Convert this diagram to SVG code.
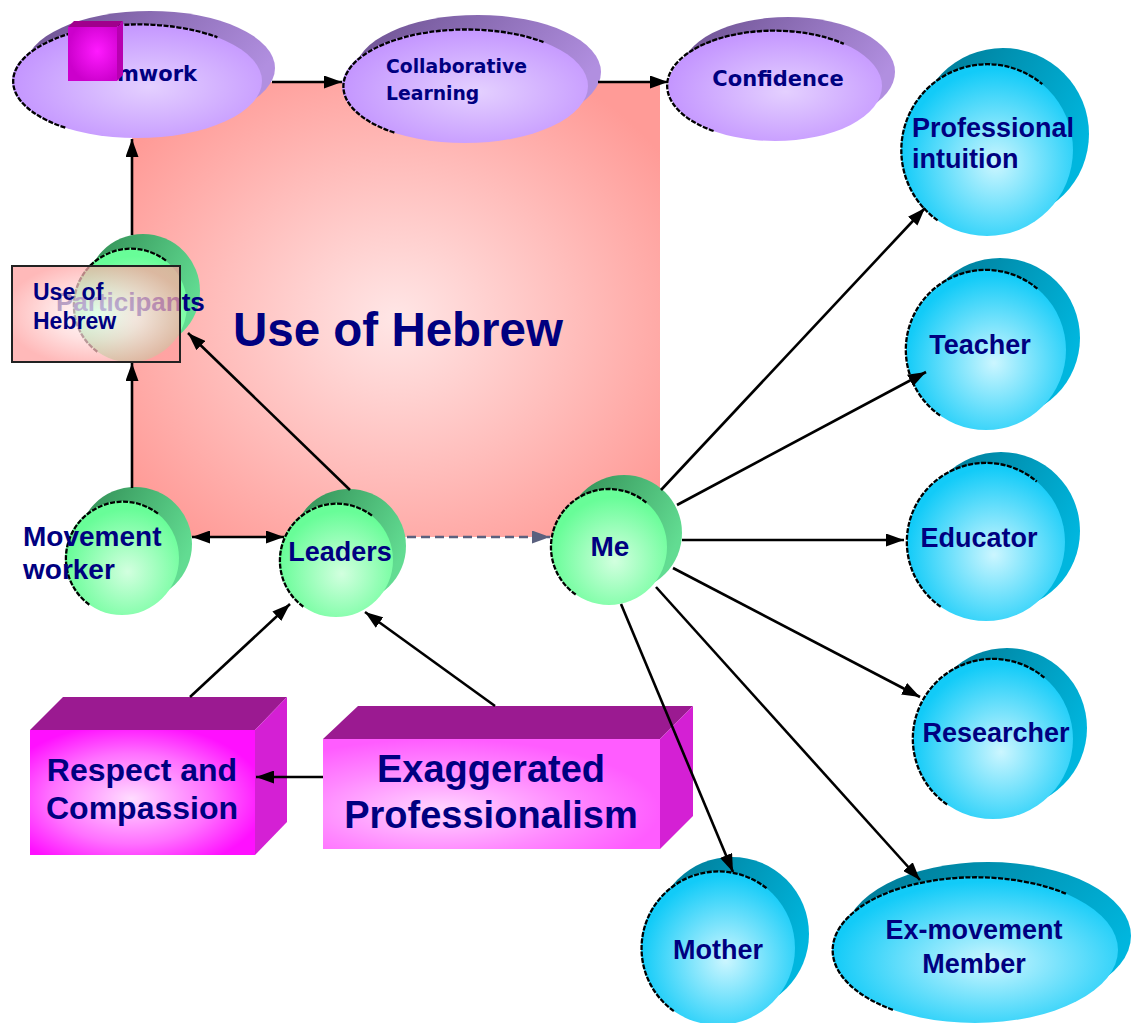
<svg xmlns="http://www.w3.org/2000/svg" width="1134" height="1023" viewBox="0 0 1134 1023">
  <defs>
    <radialGradient id="gBg" cx="50%" cy="52%" r="62%">
      <stop offset="0" stop-color="#ffe6e6"/>
      <stop offset="0.55" stop-color="#ffbdbb"/>
      <stop offset="1" stop-color="#ff9b97"/>
    </radialGradient>
    <radialGradient id="gBox" cx="50%" cy="50%" r="55%">
      <stop offset="0" stop-color="#ffffff"/>
      <stop offset="0.5" stop-color="#ffd6d6"/>
      <stop offset="1" stop-color="#ff9e9e"/>
    </radialGradient>
    <radialGradient id="gPurple" cx="55%" cy="55%" r="55%">
      <stop offset="0" stop-color="#e4d0ff"/>
      <stop offset="1" stop-color="#c496ff"/>
    </radialGradient>
    <linearGradient id="gPurpleBk" x1="0" y1="0" x2="1" y2="0.4">
      <stop offset="0" stop-color="#6a4f8e"/>
      <stop offset="1" stop-color="#b18fe0"/>
    </linearGradient>
    <radialGradient id="gGreen" cx="55%" cy="62%" r="55%">
      <stop offset="0" stop-color="#d2ffdf"/>
      <stop offset="1" stop-color="#68fd98"/>
    </radialGradient>
    <linearGradient id="gGreenBk" x1="0" y1="0" x2="1" y2="0.5">
      <stop offset="0" stop-color="#2f8a52"/>
      <stop offset="1" stop-color="#62dc92"/>
    </linearGradient>
    <radialGradient id="gBlue" cx="55%" cy="58%" r="55%">
      <stop offset="0" stop-color="#ccf6ff"/>
      <stop offset="1" stop-color="#12cbf8"/>
    </radialGradient>
    <linearGradient id="gBlueBk" x1="0" y1="0" x2="1" y2="0.5">
      <stop offset="0" stop-color="#00758f"/>
      <stop offset="1" stop-color="#00b6de"/>
    </linearGradient>
    <radialGradient id="gMagFace" cx="45%" cy="55%" r="60%">
      <stop offset="0" stop-color="#ffdcff"/>
      <stop offset="0.6" stop-color="#ff70ff"/>
      <stop offset="1" stop-color="#ff10ff"/>
    </radialGradient>
    <radialGradient id="gMagFace2" cx="35%" cy="65%" r="65%">
      <stop offset="0" stop-color="#ffd6ff"/>
      <stop offset="0.6" stop-color="#ff88ff"/>
      <stop offset="1" stop-color="#ff5cff"/>
    </radialGradient>
    <radialGradient id="gCube" cx="60%" cy="45%" r="60%">
      <stop offset="0" stop-color="#ff1aff"/>
      <stop offset="1" stop-color="#cc00cc"/>
    </radialGradient>
    <marker id="ah" viewBox="0 0 18 13" markerUnits="userSpaceOnUse" markerWidth="18" markerHeight="13" refX="18" refY="6.5" orient="auto-start-reverse">
      <path d="M0,0 L18,6.5 L0,13 z" fill="#000"/>
    </marker>
    <marker id="ahGray" viewBox="0 0 18 13" markerUnits="userSpaceOnUse" markerWidth="18" markerHeight="13" refX="18" refY="6.5" orient="auto">
      <path d="M0,0 L18,6.5 L0,13 z" fill="#5a607e"/>
    </marker>
  </defs>
  <style>
    .edge { stroke: #000; stroke-width: 2.6; fill: none; marker-end: url(#ah); }
    .dash { stroke: #5a607e; stroke-width: 2.6; fill: none; stroke-dasharray: 9 5; marker-end: url(#ahGray); }
    .rim { stroke: #000; stroke-width: 2.3; fill: none; stroke-dasharray: 5 1.5; }
    .t { font-family: "Liberation Sans", Arial, sans-serif; font-weight: bold; fill: #000080; }
    .v { font-family: "DejaVu Sans", Verdana, sans-serif; font-weight: bold; fill: #000080; }
    .mid { text-anchor: middle; }
    .pBk { fill: url(#gPurpleBk); }
    .pFr { fill: url(#gPurple); }
    .gBk { fill: url(#gGreenBk); }
    .gFr { fill: url(#gGreen); }
    .bBk { fill: url(#gBlueBk); }
    .bFr { fill: url(#gBlue); }
    .top { fill: #9b1a91; }
    .side { fill: #d420d4; }
  </style>

  <rect width="1134" height="1023" fill="#fff"/>

  <!-- large background area -->
  <g id="use-of-hebrew">
    <rect x="132" y="82" width="528" height="455" fill="url(#gBg)"/>
    <text class="t mid" x="398" y="346" font-size="47.5">Use of Hebrew</text>
  </g>

  <!-- top row ellipses -->
  <g id="teamwork">
    <ellipse class="pBk" cx="150" cy="68" rx="125" ry="57"/>
    <ellipse class="pFr" cx="137" cy="81" rx="125" ry="57"/>
    <path class="rim" d="M65.3,127.7 A125,57 0 1 1 217.4,37.3"/>
    <text class="v mid" x="137" y="81" font-size="21">Teamwork</text>
    <!-- small cube sitting on the label -->
    <polygon points="68,27 74,21 123,21 117,27" fill="#a0008c"/>
    <polygon points="117,27 123,21 123,75 117,81" fill="#b800b0"/>
    <rect x="68" y="27" width="49" height="54" fill="url(#gCube)"/>
  </g>
  <g id="collaborative-learning">
    <ellipse class="pBk" cx="478" cy="72" rx="123" ry="57"/>
    <ellipse class="pFr" cx="465" cy="86" rx="123" ry="57"/>
    <path class="rim" d="M394.4,132.7 A123,57 0 1 1 544.1,42.3"/>
    <text class="v" x="386" y="73" font-size="18.8">Collaborative</text>
    <text class="v" x="386" y="100" font-size="18.8">Learning</text>
  </g>
  <g id="confidence">
    <ellipse class="pBk" cx="788" cy="72" rx="107" ry="55"/>
    <ellipse class="pFr" cx="775" cy="86" rx="107" ry="55"/>
    <path class="rim" d="M713.6,131 A107,55 0 1 1 843.8,43.9"/>
    <text class="v mid" x="778" y="86" font-size="21">Confidence</text>
  </g>

  <!-- green people nodes -->
  <g id="participants">
    <circle class="gBk" cx="143" cy="291" r="57"/>
    <circle class="gFr" cx="130" cy="305" r="57"/>
    <path class="rim" d="M97.3,351.7 A57,57 0 1 1 166.7,261.3"/>
    <text class="t" x="56" y="311" font-size="26">Participants</text>
  </g>
  <g id="use-of-hebrew-box">
    <rect x="12" y="266" width="168" height="96" fill="url(#gBox)" fill-opacity="0.72" stroke="#222" stroke-width="2"/>
    <text class="t" x="33" y="300" font-size="23">Use of</text>
    <text class="t" x="33" y="329" font-size="23">Hebrew</text>
  </g>
  <g id="movement-worker">
    <circle class="gBk" cx="135" cy="544" r="57"/>
    <circle class="gFr" cx="122" cy="558" r="57"/>
    <path class="rim" d="M89.3,604.7 A57,57 0 1 1 158.7,514.3"/>
    <text class="t" x="23" y="546" font-size="28">Movement</text>
    <text class="t" x="23" y="579" font-size="28">worker</text>
  </g>
  <g id="leaders">
    <circle class="gBk" cx="349" cy="546" r="57"/>
    <circle class="gFr" cx="336" cy="560" r="57"/>
    <path class="rim" d="M303.3,606.7 A57,57 0 1 1 372.7,516.3"/>
    <text class="t mid" x="340" y="561" font-size="27">Leaders</text>
  </g>
  <g id="me">
    <circle class="gBk" cx="624" cy="533" r="58"/>
    <circle class="gFr" cx="609" cy="547" r="58"/>
    <path class="rim" d="M575.7,594.5 A58,58 0 1 1 646.3,502.6"/>
    <text class="t mid" x="610" y="556" font-size="28">Me</text>
  </g>

  <!-- blue role nodes -->
  <g id="professional-intuition">
    <circle class="bBk" cx="1003" cy="134" r="86"/>
    <circle class="bFr" cx="987" cy="150" r="86"/>
    <path class="rim" d="M937.6,220.4 A86,86 0 1 1 1042.3,84.1"/>
    <text class="t" x="912" y="137" font-size="27">Professional</text>
    <text class="t" x="912" y="168" font-size="27">intuition</text>
  </g>
  <g id="teacher">
    <circle class="bBk" cx="1000" cy="338" r="80"/>
    <circle class="bFr" cx="986" cy="350" r="80"/>
    <path class="rim" d="M940.1,415.5 A80,80 0 1 1 1037.4,288.7"/>
    <text class="t mid" x="980" y="354" font-size="27">Teacher</text>
  </g>
  <g id="educator">
    <circle class="bBk" cx="1001" cy="531" r="79"/>
    <circle class="bFr" cx="986" cy="542" r="79"/>
    <path class="rim" d="M940.7,606.7 A79,79 0 1 1 1036.8,481.5"/>
    <text class="t mid" x="979" y="547" font-size="27">Educator</text>
  </g>
  <g id="researcher">
    <circle class="bBk" cx="1007" cy="728" r="80"/>
    <circle class="bFr" cx="993" cy="739" r="80"/>
    <path class="rim" d="M947.1,804.5 A80,80 0 1 1 1044.4,677.7"/>
    <text class="t mid" x="996" y="742" font-size="27">Researcher</text>
  </g>
  <g id="mother">
    <circle class="bBk" cx="732" cy="934" r="77"/>
    <circle class="bFr" cx="718" cy="948" r="77"/>
    <path class="rim" d="M673.8,1011.1 A77,77 0 1 1 767.5,889"/>
    <text class="t mid" x="718" y="959" font-size="27">Mother</text>
  </g>
  <g id="ex-movement-member">
    <ellipse class="bBk" cx="988" cy="936" rx="143" ry="74"/>
    <ellipse class="bFr" cx="975" cy="950" rx="143" ry="73"/>
    <path class="rim" d="M892.9,1009.8 A143,73 0 1 1 1067,894.1"/>
    <text class="t mid" x="974" y="939" font-size="27">Ex-movement</text>
    <text class="t mid" x="974" y="973" font-size="27">Member</text>
  </g>

  <!-- 3D boxes -->
  <g id="respect-and-compassion">
    <polygon class="top" points="30,730 63,697 287,697 255,730"/>
    <polygon class="side" points="255,730 287,697 287,822 255,855"/>
    <rect x="30" y="730" width="225" height="125" fill="url(#gMagFace)"/>
    <text class="t mid" x="142" y="781" font-size="32">Respect and</text>
    <text class="t mid" x="142" y="819" font-size="32">Compassion</text>
  </g>
  <g id="exaggerated-professionalism">
    <polygon class="top" points="323,739 358,706 693,706 660,739"/>
    <polygon class="side" points="660,739 693,706 693,816 660,849"/>
    <rect x="323" y="739" width="337" height="110" fill="url(#gMagFace2)"/>
    <text class="t mid" x="491" y="782" font-size="38">Exaggerated</text>
    <text class="t mid" x="491" y="828" font-size="38">Professionalism</text>
  </g>

  <!-- connectors, drawn above the shapes they touch -->
  <g id="connectors">
    <path class="edge" d="M272,82 L342,82"/>
    <path class="edge" d="M598,82 L668,82"/>
    <path class="edge" d="M132,235 L132,139"/>
    <path class="edge" d="M132,488 L132,363"/>
    <path class="edge" d="M350,490 L188,333"/>
    <path class="edge" d="M192,537 L284,537" marker-start="url(#ah)"/>
    <path class="dash" d="M407,537 L550,537"/>
    <path class="edge" d="M661,490 L925,208"/>
    <path class="edge" d="M677,505 L926,372"/>
    <path class="edge" d="M682,540 L904,540"/>
    <path class="edge" d="M673,568 L920,697"/>
    <path class="edge" d="M656,587 L920,880"/>
    <path class="edge" d="M621,604 L733,872"/>
    <path class="edge" d="M190,697 L290,604"/>
    <path class="edge" d="M495,706 L365,612"/>
    <path class="edge" d="M323,777 L256,777"/>
  </g>
</svg>
